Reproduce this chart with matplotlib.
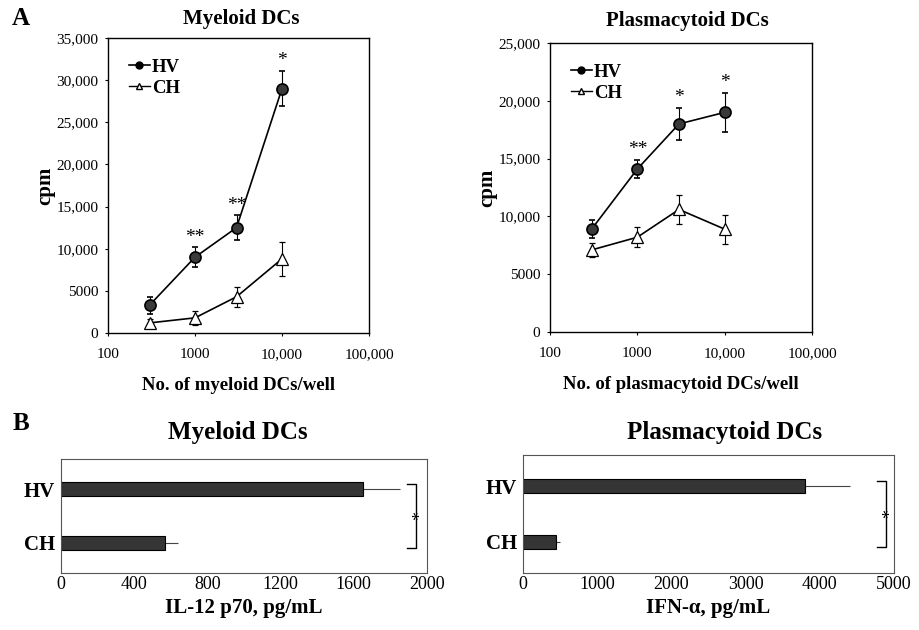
import matplotlib
matplotlib.use("Agg")
import matplotlib.pyplot as plt
from matplotlib.lines import Line2D
from matplotlib.ticker import FixedLocator, NullLocator

plt.rcParams['font.family'] = ['Liberation Serif', 'DejaVu Serif']

# panel A data
cells = [300, 1000, 3000, 10000]
mye_hv = [3300, 9000, 12500, 29000]
mye_hv_err = [1000, 1200, 1500, 2100]
mye_ch = [1200, 1800, 4300, 8800]
mye_ch_err = [500, 800, 1200, 2000]
mye_stars = ["", "**", "**", "*"]

pla_hv = [8900, 14100, 18000, 19000]
pla_hv_err = [800, 800, 1400, 1700]
pla_ch = [7100, 8200, 10600, 8900]
pla_ch_err = [600, 850, 1250, 1250]
pla_stars = ["", "**", "*", "*"]

# panel B data
groups = ["CH", "HV"]
il12 = [570, 1650]
il12_err = [70, 200]
ifn = [450, 3800]
ifn_err = [50, 600]

fig = plt.figure(figsize=(9.2, 6.3), dpi=100)


def line_panel(rect, hv, hv_err, ch, ch_err, stars, ymax, yticks, ylabels, xlabel):
    ax = fig.add_axes(rect)
    ax.errorbar(cells, hv, yerr=hv_err, color='black', lw=1.2, marker='o', ms=8,
                mfc='#3a3a3a', mec='black', mew=1.2, capsize=2.5, elinewidth=0.8,
                capthick=0.8, zorder=3)
    ax.errorbar(cells, ch, yerr=ch_err, color='black', lw=1.2, marker='^', ms=8,
                mfc='white', mec='black', mew=0.9, capsize=2.5, elinewidth=0.8,
                capthick=0.8, zorder=3)
    for x, y, e, s in zip(cells, hv, hv_err, stars):
        if s:
            ax.text(x, y + e + ymax * 0.005, s, ha='center', va='bottom', fontsize=14)
    ax.set_xscale('log')
    ax.set_xlim(100, 100000)
    ax.set_ylim(0, ymax)
    ax.xaxis.set_major_locator(FixedLocator([100, 1000, 10000, 100000]))
    ax.xaxis.set_minor_locator(NullLocator())
    ax.set_xticklabels(['100', '1000', '10,000', '100,000'])
    ax.set_yticks(yticks)
    ax.set_yticklabels(ylabels)
    ax.tick_params(axis='x', labelsize=11, length=2, width=0.8, pad=9)
    ax.tick_params(axis='y', labelsize=11, length=2, width=0.8, pad=5)
    for sp in ax.spines.values():
        sp.set_linewidth(1.0)
    ax.set_ylabel('cpm', fontsize=15, fontweight='bold', labelpad=1)
    ax.set_xlabel(xlabel, fontsize=13.5, fontweight='bold', labelpad=11)
    handles = [Line2D([], [], color='black', lw=1.2, marker='o', ms=5,
                      mfc='black', mec='black'),
               Line2D([], [], color='black', lw=1.0, marker='^', ms=5,
                      mfc='white', mec='black')]
    ax.legend(handles, ['HV', 'CH'], loc='upper left', frameon=False,
              handlelength=1.15, handletextpad=0.1, borderpad=0.6,
              labelspacing=0.2, prop={'weight': 'bold', 'size': 13.5})
    return ax


line_panel([0.1174, 0.4714, 0.2837, 0.4683], mye_hv, mye_hv_err, mye_ch, mye_ch_err,
           mye_stars, 35000, [0, 5000, 10000, 15000, 20000, 25000, 30000, 35000],
           ['0', '5000', '10,000', '15,000', '20,000', '25,000', '30,000', '35,000'],
           'No. of myeloid DCs/well')
line_panel([0.5978, 0.473, 0.2848, 0.4587], pla_hv, pla_hv_err, pla_ch, pla_ch_err,
           pla_stars, 25000, [0, 5000, 10000, 15000, 20000, 25000],
           ['0', '5000', '10,000', '15,000', '20,000', '25,000'],
           'No. of plasmacytoid DCs/well')


def bar_panel(rect, vals, errs, xmax, xticks, xlabel, bx):
    ax = fig.add_axes(rect)
    pos = [0, 1]
    ax.barh(pos, vals, height=0.25, color='#353535', edgecolor='black', lw=0.8, zorder=2)
    ax.errorbar(vals, pos, xerr=[[0, 0], errs], fmt='none', ecolor='#444444',
                elinewidth=0.8, capsize=0, zorder=1)
    ax.set_xlim(0, xmax)
    ax.set_ylim(-0.56, 1.56)
    ax.set_yticks(pos)
    ax.set_yticklabels(groups, fontsize=15, fontweight='bold')
    ax.set_xticks(xticks)
    ax.tick_params(axis='x', labelsize=13, length=0, pad=2)
    ax.tick_params(axis='y', length=0, pad=4)
    for sp in ax.spines.values():
        sp.set_linewidth(0.8)
        sp.set_color('#555555')
    ax.set_xlabel(xlabel, fontsize=15, fontweight='bold', labelpad=4)
    # significance bracket
    arm = xmax * 0.025
    ax.plot([bx - arm, bx, bx, bx - arm], [1.1, 1.1, -0.1, -0.1], color='black',
            lw=1.0, clip_on=False)
    ax.text(bx + xmax * 0.012, 0.5, '*', rotation=90, ha='center', va='center',
            fontsize=13, clip_on=False)
    return ax


bar_panel([0.0663, 0.0905, 0.3978, 0.181], il12, il12_err, 2000,
          [0, 400, 800, 1200, 1600, 2000], 'IL-12 p70, pg/mL', 1940)
bar_panel([0.5685, 0.0905, 0.4033, 0.1873], ifn, ifn_err, 5000,
          [0, 1000, 2000, 3000, 4000, 5000], 'IFN-α, pg/mL', 4890)

# titles and panel letters
fig.text(0.262, 0.97, 'Myeloid DCs', ha='center', va='center', fontsize=15, fontweight='bold')
fig.text(0.747, 0.967, 'Plasmacytoid DCs', ha='center', va='center', fontsize=15, fontweight='bold')
fig.text(0.259, 0.314, 'Myeloid DCs', ha='center', va='center', fontsize=18, fontweight='bold')
fig.text(0.788, 0.314, 'Plasmacytoid DCs', ha='center', va='center', fontsize=18, fontweight='bold')
fig.text(0.023, 0.971, 'A', ha='center', va='center', fontsize=18, fontweight='bold')
fig.text(0.023, 0.328, 'B', ha='center', va='center', fontsize=18, fontweight='bold')

fig.savefig('out.png', dpi=100, facecolor='white')
